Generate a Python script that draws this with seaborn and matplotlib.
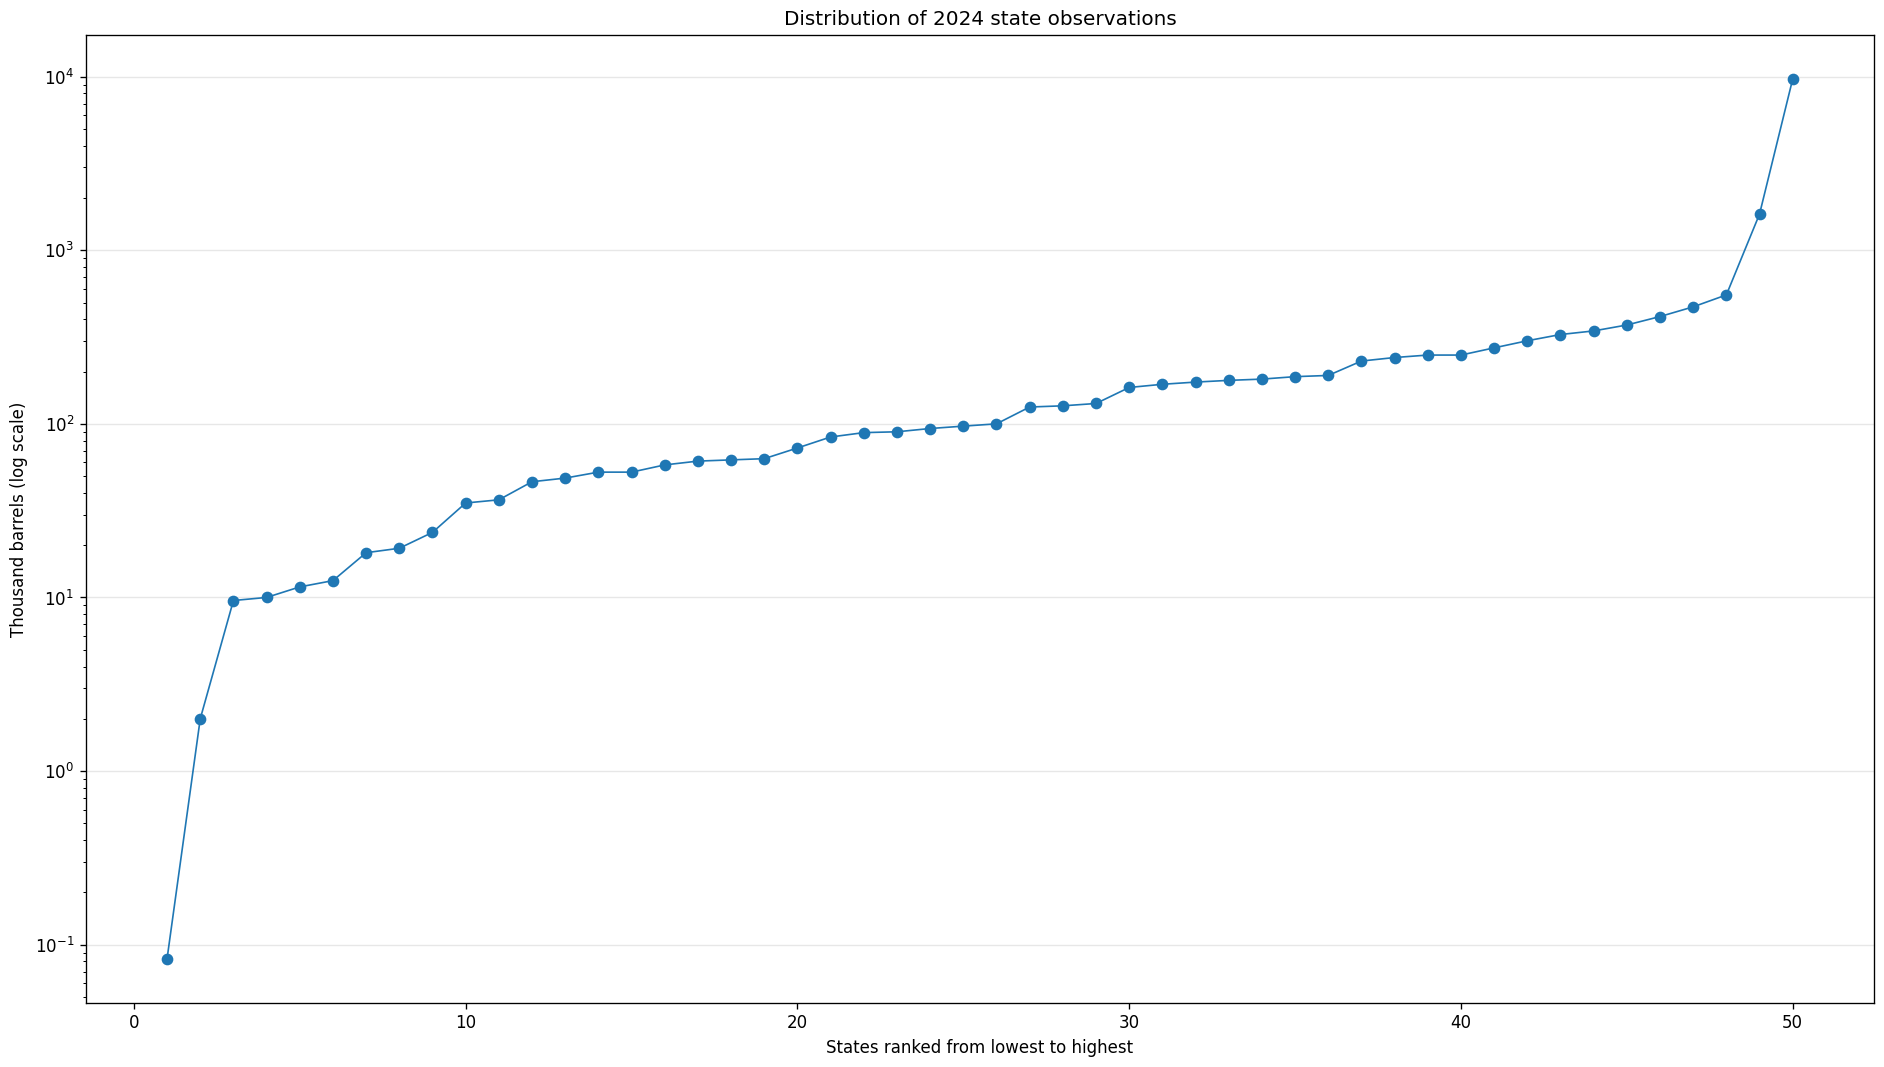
import numpy as np
import pandas as pd
import matplotlib
matplotlib.use("Agg")
import matplotlib.pyplot as plt
import seaborn as sns

# Ranked 2024 state values (thousand barrels)
ranks = list(range(1, 51))
values = [
    0.083, 2.0, 9.6, 10.0, 11.5, 12.5, 18.1, 19.2, 23.7, 35.0,
    36.5, 46.4, 48.7, 52.7, 52.7, 58.0, 61.0, 62.0, 63.0, 72.6,
    84.0, 89.0, 90.0, 94.0, 97.0, 100.0, 125.0, 127.0, 131.0, 162.0,
    169.0, 174.0, 178.0, 181.0, 187.0, 190.0, 230.0, 241.0, 249.0, 249.0,
    274.0, 301.0, 327.0, 343.0, 371.0, 415.0, 472.0, 553.0, 1616.0, 9700.0,
]

df = pd.DataFrame({"rank": ranks, "value": values})

fig, ax = plt.subplots(figsize=(15.7, 8.892), dpi=120)

sns.lineplot(data=df, x="rank", y="value", marker="o", markersize=6,
             linewidth=1, color="#1f77b4", markeredgecolor="#1f77b4",
             markeredgewidth=1, ax=ax)

ax.set_yscale("log")
ax.grid(axis="y", which="major", alpha=0.3)
ax.set_title("Distribution of 2024 state observations")
ax.set_xlabel("States ranked from lowest to highest")
ax.set_ylabel("Thousand barrels (log scale)")

plt.tight_layout(pad=0.6)
plt.savefig("out.png", dpi=120)
